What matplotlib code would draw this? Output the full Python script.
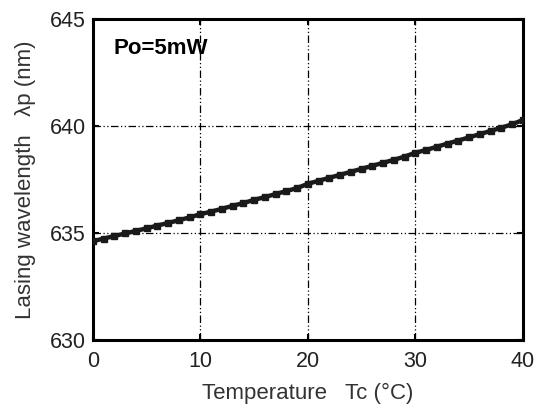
import matplotlib
matplotlib.use('Agg')
import matplotlib.pyplot as plt

# temperature (degC) and lasing wavelength (nm)
temp = list(range(0, 41))
wavelength = [634.62, 634.74, 634.86, 634.98, 635.10, 635.22, 635.35, 635.47, 635.60, 635.73,
              635.88, 636.00, 636.13, 636.27, 636.40, 636.55, 636.68, 636.82, 636.96, 637.10,
              637.30, 637.44, 637.58, 637.72, 637.86, 638.00, 638.14, 638.28, 638.42, 638.57,
              638.75, 638.88, 639.03, 639.18, 639.32, 639.47, 639.62, 639.77, 639.92, 640.08,
              640.28]
xticks = [0, 10, 20, 30, 40]
yticks = [630, 635, 640, 645]

plt.rcParams['font.family'] = ['Liberation Sans', 'DejaVu Sans']

fig = plt.figure(figsize=(5.39, 4.09), dpi=100)
ax = fig.add_axes([0.1725, 0.1687, 0.7975, 0.7848])

ax.plot(temp, wavelength, color='#1a1a1a', lw=3.2, marker='s', ms=5,
        mfc='#1a1a1a', mec='#1a1a1a', zorder=3)

ax.set_xlim(0, 40)
ax.set_ylim(630, 645)
ax.set_xticks(xticks)
ax.set_yticks(yticks)
ax.grid(True, color='black', lw=0.9, linestyle=(0, (6, 2, 1, 2, 1, 2)))
ax.tick_params(direction='in', length=4, width=1.5, top=True, right=True,
               labelsize=15.5, labelcolor='#222222')
ax.tick_params(axis='x', pad=8)
ax.tick_params(axis='y', pad=5)
for s in ax.spines.values():
    s.set_linewidth(2.2)

ax.set_xlabel('Temperature   Tc (\u00b0C)', fontsize=16, color='#333333', labelpad=8)
ax.set_ylabel('Lasing wavelength   \u03bbp (nm)', fontsize=16, color='#333333', labelpad=10)

ax.text(1.9, 643.6, 'Po=5mW', fontsize=16, fontweight='bold', va='center', ha='left')

fig.savefig('out.png', dpi=100)
